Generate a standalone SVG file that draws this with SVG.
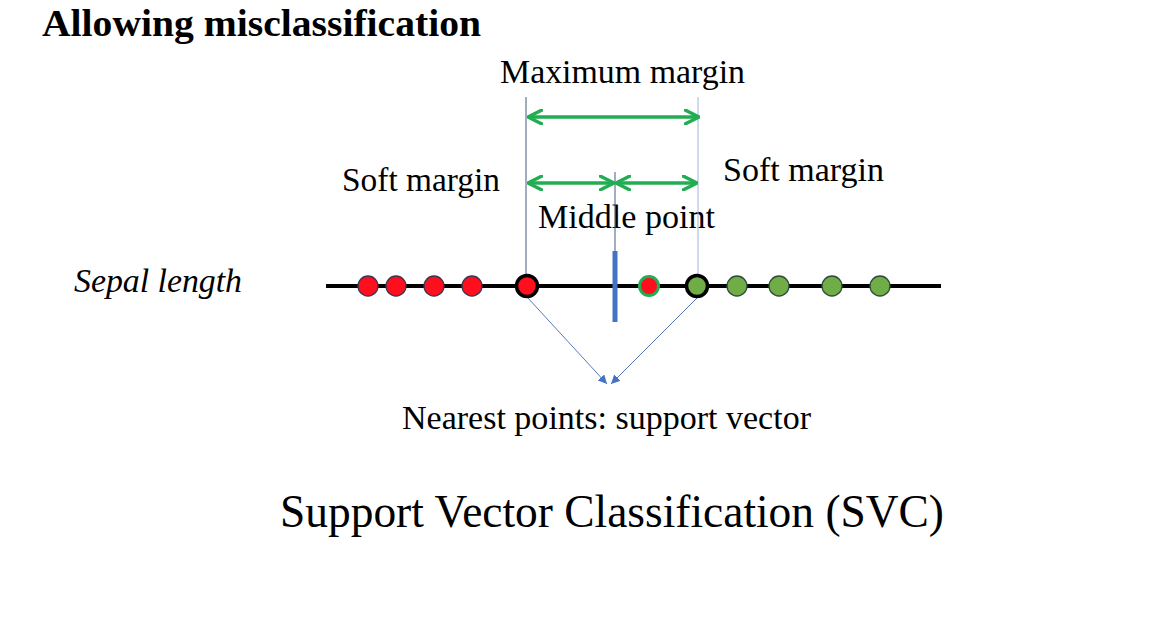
<svg xmlns="http://www.w3.org/2000/svg" width="1176" height="620" viewBox="0 0 1176 620">
  <style>
    text { font-family: 'Liberation Serif', 'Times New Roman', Tinos, serif; fill: #000; }
    .lbl { font-size: 33px; }
    .title { font-size: 38px; font-weight: bold; }
    .big { font-size: 46px; }
    .green { stroke: #22AD52; stroke-width: 3.5; fill: none; }
    .red { fill: #FF0F1E; stroke: #3E3550; stroke-width: 1.3; }
    .grn { fill: #70AD47; stroke: #2E4A3A; stroke-width: 1.3; }
    .guide { stroke-width: 1; fill: none; }
  </style>
  <defs>
    <marker id="chev" viewBox="0 0 16 16" refX="15" refY="8" markerWidth="16" markerHeight="16" markerUnits="userSpaceOnUse" orient="auto-start-reverse">
      <path d="M1,1 L15,8 L1,15" fill="none" stroke="#22AD52" stroke-width="3.5" stroke-linecap="round" stroke-linejoin="round"/>
    </marker>
    <marker id="tri" viewBox="0 0 10 10" refX="10" refY="5" markerWidth="9" markerHeight="9" markerUnits="userSpaceOnUse" orient="auto">
      <path d="M0,0 L10,5 L0,10 Z" fill="#4472C4"/>
    </marker>
  </defs>
  <rect width="1176" height="620" fill="#FFFFFF"/>

  <g id="texts">
    <text class="title" x="42" y="36" textLength="439" lengthAdjust="spacingAndGlyphs">Allowing misclassification</text>
    <text class="lbl" x="500" y="83" textLength="245" lengthAdjust="spacingAndGlyphs">Maximum margin</text>
    <text class="lbl" x="342" y="191" textLength="158" lengthAdjust="spacingAndGlyphs">Soft margin</text>
    <text class="lbl" x="723" y="181" textLength="161" lengthAdjust="spacingAndGlyphs">Soft margin</text>
    <text class="lbl" x="538" y="228" textLength="177" lengthAdjust="spacingAndGlyphs">Middle point</text>
    <text class="lbl" x="74" y="292" font-style="italic" textLength="168" lengthAdjust="spacingAndGlyphs">Sepal length</text>
    <text class="lbl" x="402" y="429" textLength="409" lengthAdjust="spacingAndGlyphs">Nearest points: support vector</text>
    <text class="big" x="280" y="527" textLength="664" lengthAdjust="spacingAndGlyphs">Support Vector Classification (SVC)</text>
  </g>

  <g id="connectors">
    <line class="guide" x1="526" y1="97" x2="526" y2="276" stroke="#4A5A78"/>
    <line class="guide" x1="698" y1="97" x2="698" y2="276" stroke="#9DB4DA"/>
    <line class="guide" x1="615" y1="172" x2="615" y2="251" stroke="#4A5A88"/>
    <line class="green" x1="528" y1="117" x2="699" y2="117" marker-start="url(#chev)" marker-end="url(#chev)"/>
    <line class="green" x1="528" y1="183" x2="614" y2="183" marker-start="url(#chev)" marker-end="url(#chev)"/>
    <line class="green" x1="616" y1="183" x2="697" y2="183" marker-start="url(#chev)" marker-end="url(#chev)"/>
    <line x1="527" y1="297" x2="607" y2="384" stroke="#5A78B8" stroke-width="1" marker-end="url(#tri)"/>
    <line x1="697" y1="298" x2="611" y2="384" stroke="#5A78B8" stroke-width="1" marker-end="url(#tri)"/>
  </g>

  <g id="axis">
    <line x1="326" y1="286" x2="941" y2="286" stroke="#000" stroke-width="4"/>
  </g>

  <g id="boundary">
    <rect x="612.5" y="251" width="5" height="71" fill="#4472C4"/>
  </g>

  <g id="red-points">
    <circle class="red" cx="368" cy="286" r="10"/>
    <circle class="red" cx="396" cy="286" r="10"/>
    <circle class="red" cx="434" cy="286" r="10"/>
    <circle class="red" cx="472" cy="286" r="10"/>
  </g>
  <g id="support-red">
    <circle cx="527" cy="286" r="10.5" fill="#FF0F1E" stroke="#000" stroke-width="3.5"/>
  </g>
  <g id="misclassified">
    <circle cx="649" cy="286" r="9.5" fill="#FF0F1E" stroke="#22AD52" stroke-width="3"/>
  </g>
  <g id="support-green">
    <circle cx="697" cy="286" r="10.5" fill="#70AD47" stroke="#000" stroke-width="3.5"/>
  </g>
  <g id="green-points">
    <circle class="grn" cx="737" cy="286" r="10"/>
    <circle class="grn" cx="779" cy="286" r="10"/>
    <circle class="grn" cx="832" cy="286" r="10"/>
    <circle class="grn" cx="880" cy="286" r="10"/>
  </g>
</svg>
